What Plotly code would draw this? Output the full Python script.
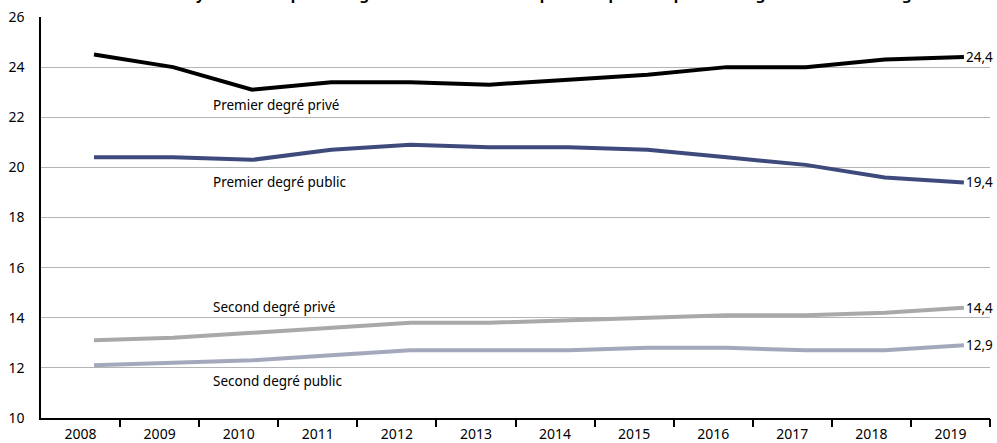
import plotly.graph_objects as go

years = [2008, 2009, 2010, 2011, 2012, 2013, 2014, 2015, 2016, 2017, 2018, 2019]
premier_prive = [24.5, 24.0, 23.1, 23.4, 23.4, 23.3, 23.5, 23.7, 24.0, 24.0, 24.3, 24.4]
premier_public = [20.4, 20.4, 20.3, 20.7, 20.9, 20.8, 20.8, 20.7, 20.4, 20.1, 19.6, 19.4]
second_prive = [13.1, 13.2, 13.4, 13.6, 13.8, 13.8, 13.9, 14.0, 14.1, 14.1, 14.2, 14.4]
second_public = [12.1, 12.2, 12.3, 12.5, 12.7, 12.7, 12.7, 12.8, 12.8, 12.7, 12.7, 12.9]
series_names = ["Premier degré privé", "Premier degré public", "Second degré privé", "Second degré public"]
y_ticks = [10, 12, 14, 16, 18, 20, 22, 24, 26]
title_text = "Évolution du nombre moyen d'élèves par enseignant dans les secteurs public et privé du premier degré et du second degré"

FONT = "Noto Sans"
colors = ["#000000", "#3f4a7c", "#a9a9a9", "#a4a8bc"]
widths = [4, 4, 4, 4]
series = [premier_prive, premier_public, second_prive, second_public]

off = 0.17
x0 = years[0] - 0.5 - off
x1 = years[-1] + 0.5 - off

fig = go.Figure()
for name, vals, c, w in zip(series_names, series, colors, widths):
    fig.add_trace(go.Scatter(x=years, y=vals, mode="lines", name=name,
                             line=dict(color=c, width=w), showlegend=False,
                             hoverinfo="skip"))
# invisible trace so the boundary-tick axis is drawn
fig.add_trace(go.Scatter(x=[x0], y=[y_ticks[0]], xaxis="x2", mode="markers",
                         marker=dict(opacity=0), showlegend=False, hoverinfo="skip"))

annotations = []
label_pos = [(2009.48, 22.49), (2009.48, 19.42), (2009.48, 14.43), (2009.48, 11.47)]
for name, (lx, ly) in zip(series_names, label_pos):
    annotations.append(dict(x=lx, y=ly, xref="x", yref="y", text=name, showarrow=False,
                            xanchor="left", yanchor="middle",
                            font=dict(family=FONT, size=13.5, color="#000")))
for vals in series:
    annotations.append(dict(x=years[-1], y=vals[-1], xref="x", yref="y",
                            text=f"{vals[-1]:.1f}".replace(".", ","), showarrow=False,
                            xanchor="left", yanchor="middle", xshift=0,
                            font=dict(family=FONT, size=13.5, color="#000")))
annotations.append(dict(x=0, y=1, xref="paper", yref="paper", xanchor="left", yanchor="bottom",
                        xshift=-31, yshift=11, text="<b>" + title_text + "</b>", showarrow=False,
                        font=dict(family=FONT, size=15, color="#000")))

fig.update_layout(
    width=997, height=443,
    margin=dict(l=41, r=7, t=17, b=25, autoexpand=False),
    paper_bgcolor="white", plot_bgcolor="white",
    font=dict(family=FONT, size=14, color="#000"),
    xaxis=dict(type="linear", range=[x0, x1], tickvals=[y - off for y in years],
               ticktext=[str(y) for y in years], ticks="", showgrid=False,
               showline=True, linecolor="#000", linewidth=1.5, zeroline=False,
               ticklabelstandoff=2, automargin=False,
               tickfont=dict(family=FONT, size=14, color="#000")),
    xaxis2=dict(type="linear", range=[x0, x1], overlaying="x", anchor="y", side="bottom",
                tickvals=[y + 0.5 - off for y in years], ticks="outside", ticklen=8,
                tickwidth=1.5, tickcolor="#000", showticklabels=False, showgrid=False,
                showline=False, zeroline=False, automargin=False),
    yaxis=dict(range=[10, 26], tickvals=y_ticks, ticks="", showgrid=True,
               gridcolor="#b4b4b4", gridwidth=1, showline=True, linecolor="#000",
               linewidth=1.5, zeroline=False, ticklabelstandoff=12, automargin=False,
               tickfont=dict(family=FONT, size=14, color="#000")),
    annotations=annotations,
)

fig.write_html("out.html", config={"displayModeBar": False},
               post_script="document.body.style.margin='0';document.body.style.overflow='hidden';")
